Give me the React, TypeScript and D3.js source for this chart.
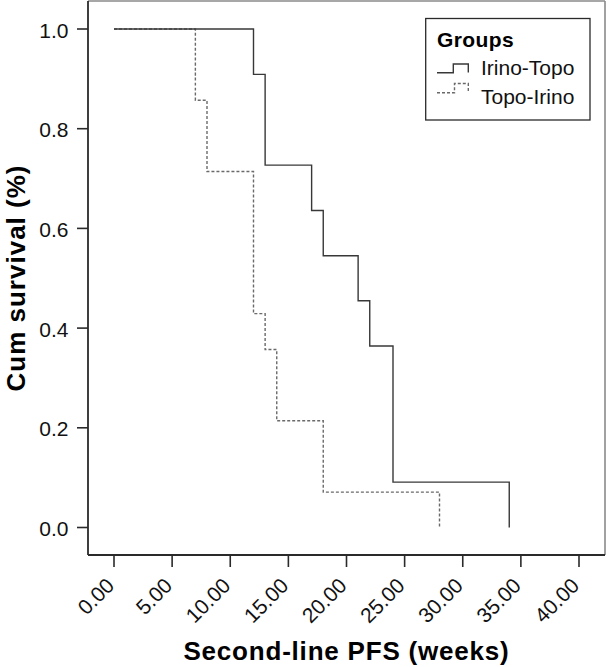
import React, { useEffect } from "react";
import * as d3 from "d3";

const xTicks = [0, 5, 10, 15, 20, 25, 30, 35, 40];
const yTicks = [0, 0.2, 0.4, 0.6, 0.8, 1.0];

const groupNames = ["Irino-Topo", "Topo-Irino"];
const irinoTopoTimes = [0, 12, 13, 17, 18, 21, 22, 24, 34];
const irinoTopoSurv = [1.0, 0.909, 0.727, 0.636, 0.545, 0.455, 0.364, 0.091, 0.0];
const topoIrinoTimes = [0, 7, 8, 12, 13, 14, 18, 28];
const topoIrinoSurv = [1.0, 0.857, 0.714, 0.429, 0.357, 0.214, 0.071, 0.0];

const W = 607;
const H = 667;
const FONT = "'Liberation Sans', Arial, Helvetica, sans-serif";

export default function App() {
  useEffect(() => {
    document.body.style.margin = "0";
  }, []);

  const x = d3.scaleLinear().domain([0, 40]).range([114, 579]);
  const y = d3.scaleLinear().domain([0, 1]).range([527.5, 29]);

  const line = d3
    .line<[number, number]>()
    .x((d) => x(d[0]))
    .y((d) => y(d[1]))
    .curve(d3.curveStepAfter);

  const s1 = irinoTopoTimes.map((t, i) => [t, irinoTopoSurv[i]] as [number, number]);
  const s2 = topoIrinoTimes.map((t, i) => [t, topoIrinoSurv[i]] as [number, number]);

  const frameL = 88;
  const frameB = 555;
  const frameR = 605;
  const frameT = 1;

  const solidColor = "#383838";
  const dashColor = "#6a6a6a";

  return (
    <svg width={W} height={H} style={{ display: "block", position: "absolute", left: 0, top: 0 }}>
      <rect x={0} y={0} width={W} height={H} fill="#fff" />
      {/* outer border top/right */}
      <line x1={frameL} y1={frameT} x2={frameR} y2={frameT} stroke="#8a8a8a" strokeWidth={1.6} />
      <line x1={frameR} y1={frameT} x2={frameR} y2={frameB} stroke="#8a8a8a" strokeWidth={1.6} />
      {/* axes */}
      <line x1={frameL} y1={frameT} x2={frameL} y2={frameB} stroke="#2a2a2a" strokeWidth={1.8} />
      <line x1={frameL} y1={frameB} x2={frameR} y2={frameB} stroke="#2a2a2a" strokeWidth={1.8} />

      {yTicks.map((t) => (
        <g key={"y" + t}>
          <line x1={frameL - 11} x2={frameL} y1={y(t)} y2={y(t)} stroke="#2a2a2a" strokeWidth={1.6} />
          <text
            x={68.5}
            y={y(t)}
            dy={8.5}
            textAnchor="end"
            fontFamily={FONT}
            fontSize={21}
            fill="#111"
          >
            {t.toFixed(1)}
          </text>
        </g>
      ))}

      {xTicks.map((t) => (
        <g key={"x" + t}>
          <line x1={x(t)} x2={x(t)} y1={frameB} y2={frameB + 12} stroke="#2a2a2a" strokeWidth={1.6} />
          <text
            transform={`translate(${x(t) + 1.5},${587}) rotate(-45)`}
            textAnchor="end"
            fontFamily={FONT}
            fontSize={21}
            fill="#111"
          >
            {t.toFixed(2)}
          </text>
        </g>
      ))}

      {/* curves */}
      <path d={line(s2) || ""} fill="none" stroke={dashColor} strokeWidth={1.4} strokeDasharray="3,2" />
      <path d={line(s1) || ""} fill="none" stroke={solidColor} strokeWidth={1.4} />

      {/* axis titles */}
      <text
        x={(frameL + frameR) / 2}
        y={660}
        textAnchor="middle"
        fontFamily={FONT}
        fontWeight="bold"
        fontSize={26}
        letterSpacing={0.8}
        fill="#000"
      >
        Second-line PFS (weeks)
      </text>
      <text
        transform={`translate(25,${(frameT + frameB) / 2}) rotate(-90)`}
        textAnchor="middle"
        fontFamily={FONT}
        fontWeight="bold"
        fontSize={26}
        letterSpacing={1}
        fill="#000"
      >
        Cum survival (%)
      </text>

      {/* legend */}
      <g>
        <rect x={425.7} y={18.5} width={164.3} height={101.5} fill="#fff" stroke="#2a2a2a" strokeWidth={1.3} />
        <text x={437} y={46.5} fontFamily={FONT} fontWeight="bold" fontSize={21} letterSpacing={0.4} fill="#000">
          Groups
        </text>
        <path
          d="M437,72.7 H453.3 V64 H468.3 V72.5"
          fill="none"
          stroke={solidColor}
          strokeWidth={1.4}
        />
        <text x={481} y={75} fontFamily={FONT} fontSize={21} fill="#111">
          {groupNames[0]}
        </text>
        <path
          d="M437,92.7 H454.5 V83.5 H468.3 V92.5"
          fill="none"
          stroke={dashColor}
          strokeWidth={1.4}
          strokeDasharray="3,2"
        />
        <text x={481} y={104.3} fontFamily={FONT} fontSize={21} fill="#111">
          {groupNames[1]}
        </text>
      </g>
    </svg>
  );
}
